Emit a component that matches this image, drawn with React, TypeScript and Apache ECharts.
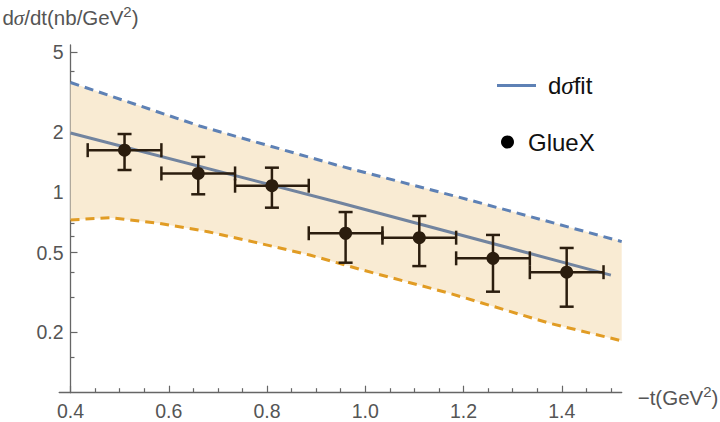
import { useEffect, useRef } from 'react';
import * as echarts from 'echarts';

// GlueX data points: -t (GeV^2), half bin width, dσ/dt (nb/GeV^2) with error limits
const T = [0.51, 0.66, 0.81, 0.96, 1.11, 1.26, 1.41];
const T_HALF_BIN = [0.075, 0.075, 0.075, 0.075, 0.075, 0.075, 0.075];
const DSIGMA = [1.62, 1.24, 1.077, 0.624, 0.593, 0.468, 0.399];
const DSIGMA_HIGH = [1.95, 1.5, 1.325, 0.796, 0.761, 0.612, 0.527];
const DSIGMA_LOW = [1.29, 0.976, 0.837, 0.445, 0.428, 0.319, 0.2685];

// fit curve
const FIT_T = [0.4, 0.95, 1.5];
const FIT = [1.974, 0.883, 0.386];

// upper / lower bounds of the band
const UPPER_T = [0.4, 0.663, 0.941, 1.2125, 1.522];
const UPPER = [3.525, 2.138, 1.367, 0.914, 0.567];
const LOWER_T = [0.4, 0.48, 0.58, 0.68, 0.785, 0.887, 0.989, 1.172, 1.375, 1.522];
const LOWER = [0.727, 0.746, 0.7, 0.635, 0.556, 0.486, 0.4125, 0.313, 0.222, 0.1815];

// ticks
const X_MAJOR = [0.4, 0.6, 0.8, 1.0, 1.2, 1.4];
const X_MINOR = [0.45, 0.5, 0.55, 0.65, 0.7, 0.75, 0.85, 0.9, 0.95, 1.05, 1.1, 1.15, 1.25, 1.3, 1.35, 1.45, 1.5];
const Y_MAJOR = [0.2, 0.5, 1, 2, 5];
const Y_MINOR = [0.15, 0.3, 0.4, 0.6, 0.7, 0.8, 1.5, 3, 4];

const X_MIN = 0.377;
const X_MAX = 1.522;
const Y_MIN = 0.1;
const Y_MAX = 5.42;

const lg = (v: number) => Math.log10(v);

const GRID_LEFT = 59.2;
const GRID_TOP = 45;
const GRID_W = 562.5;
const GRID_H = 347.7;

const AXIS_COLOR = '#666';
const LABEL_COLOR = '#555';
const FONT = 'Liberation Sans, Arial, sans-serif';

export default function App() {
  const ref = useRef<HTMLDivElement>(null);
  useEffect(() => {
    if (!ref.current) return;
    const chart = echarts.init(ref.current, undefined, { renderer: 'svg' });
    const yOffset = -((0.4 - X_MIN) / (X_MAX - X_MIN)) * GRID_W;
    const ptColor = '#2b1d0e';

    const option: any = {
      animation: false,
      backgroundColor: '#fff',
      grid: {
        left: GRID_LEFT,
        top: GRID_TOP,
        width: GRID_W,
        height: GRID_H,
        containLabel: false,
        outerBoundsMode: 'none',
      },
      xAxis: [
        {
          type: 'value',
          min: X_MIN,
          max: X_MAX,
          position: 'bottom',
          name: '−t(GeV{sup|2})',
          nameLocation: 'end',
          nameGap: 16,
          nameTextStyle: {
            color: LABEL_COLOR,
            fontSize: 20.5,
            fontFamily: FONT,
            verticalAlign: 'middle',
            padding: [10, 0, 0, 0],
            rich: {
              sup: { fontSize: 15, fontFamily: FONT, color: LABEL_COLOR, verticalAlign: 'top', padding: [0, 0, 12, 0] },
            },
          },
          axisLine: { show: true, onZero: false, lineStyle: { color: AXIS_COLOR, width: 1.3 } },
          axisTick: { show: true, inside: true, length: 7, customValues: X_MAJOR, lineStyle: { color: AXIS_COLOR, width: 1.2 } },
          axisLabel: {
            customValues: X_MAJOR,
            formatter: (v: number) => v.toFixed(1),
            color: LABEL_COLOR,
            fontSize: 19.5,
            fontFamily: FONT,
            margin: 8,
          },
          splitLine: { show: false },
        },
        {
          type: 'value',
          min: X_MIN,
          max: X_MAX,
          position: 'bottom',
          axisLine: { show: false, onZero: false },
          axisTick: { show: true, inside: true, length: 4.5, customValues: X_MINOR, lineStyle: { color: AXIS_COLOR, width: 1.2 } },
          axisLabel: { show: false },
          splitLine: { show: false },
        },
      ],
      yAxis: [
        {
          type: 'value',
          min: lg(Y_MIN),
          max: lg(Y_MAX),
          position: 'left',
          offset: yOffset,
          name: 'd{i|σ}/dt(nb/GeV{sup|2})',
          nameLocation: 'end',
          nameGap: 14,
          nameTextStyle: {
            color: LABEL_COLOR,
            fontSize: 20.5,
            fontFamily: FONT,
            align: 'center',
            rich: {
              i: { fontStyle: 'italic', fontFamily: 'Liberation Serif, serif', fontSize: 21, color: LABEL_COLOR },
              sup: { fontSize: 15, fontFamily: FONT, color: LABEL_COLOR, verticalAlign: 'top', padding: [0, 0, 12, 0] },
            },
          },
          axisLine: { show: true, onZero: false, lineStyle: { color: AXIS_COLOR, width: 1.3 } },
          axisTick: { show: true, inside: true, length: 7, customValues: Y_MAJOR.map(lg), lineStyle: { color: AXIS_COLOR, width: 1.2 } },
          axisLabel: {
            customValues: Y_MAJOR.map(lg),
            formatter: (v: number) => String(+Math.pow(10, v).toPrecision(3)),
            color: LABEL_COLOR,
            fontSize: 19.5,
            fontFamily: FONT,
            margin: 7,
          },
          splitLine: { show: false },
        },
        {
          type: 'value',
          min: lg(Y_MIN),
          max: lg(Y_MAX),
          position: 'left',
          offset: yOffset,
          axisLine: { show: false, onZero: false },
          axisTick: { show: true, inside: true, length: 4, customValues: Y_MINOR.map(lg), lineStyle: { color: AXIS_COLOR, width: 1.2 } },
          axisLabel: { show: false },
          splitLine: { show: false },
        },
      ],
      legend: [
        {
          data: [{ name: 'dσfit', icon: 'rect', itemStyle: { color: '#5E81B5' } }],
          left: 497,
          top: 73,
          padding: 0,
          itemWidth: 39,
          itemHeight: 3,
          selectedMode: false,
          formatter: () => 'd{i|σ}fit',
          textStyle: {
            fontSize: 24,
            color: '#111',
            fontFamily: FONT,
            padding: [0, 0, 0, 7],
            rich: { i: { fontStyle: 'italic', fontFamily: 'Liberation Serif, serif', fontSize: 25, color: '#111' } },
          },
        },
        {
          data: [{ name: 'GlueX', icon: 'circle', itemStyle: { color: '#000' } }],
          left: 501,
          top: 130,
          padding: 0,
          itemWidth: 13,
          itemHeight: 13,
          selectedMode: false,
          textStyle: { fontSize: 24, color: '#111', fontFamily: FONT, padding: [0, 0, 0, 9] },
        },
      ],
      series: [
        {
          type: 'custom',
          name: 'band',
          coordinateSystem: 'cartesian2d',
          xAxisIndex: 0,
          yAxisIndex: 0,
          silent: true,
          z: 1,
          data: [[UPPER_T[0], lg(UPPER[0])]],
          renderItem: (_params: any, api: any) => {
            const pts: number[][] = [];
            UPPER_T.forEach((t, i) => pts.push(api.coord([t, lg(UPPER[i])])));
            for (let i = LOWER_T.length - 1; i >= 0; i--) pts.push(api.coord([LOWER_T[i], lg(LOWER[i])]));
            return { type: 'polygon', shape: { points: pts }, style: { fill: '#F9EBD3' } };
          },
        },
        {
          type: 'line',
          name: 'upper',
          xAxisIndex: 0,
          yAxisIndex: 0,
          z: 2,
          symbol: 'none',
          silent: true,
          data: UPPER_T.map((t, i) => [t, lg(UPPER[i])]),
          lineStyle: { color: '#5E81B5', width: 3, type: [9, 6] },
        },
        {
          type: 'line',
          name: 'lower',
          xAxisIndex: 0,
          yAxisIndex: 0,
          z: 2,
          symbol: 'none',
          silent: true,
          data: LOWER_T.map((t, i) => [t, lg(LOWER[i])]),
          lineStyle: { color: '#E19C24', width: 3, type: [9, 6] },
        },
        {
          type: 'line',
          name: 'dσfit',
          xAxisIndex: 0,
          yAxisIndex: 0,
          z: 3,
          symbol: 'none',
          silent: true,
          data: FIT_T.map((t, i) => [t, lg(FIT[i])]),
          lineStyle: { color: '#72849f', width: 3 },
          itemStyle: { color: '#5E81B5' },
        },
        {
          type: 'custom',
          name: 'errors',
          coordinateSystem: 'cartesian2d',
          xAxisIndex: 0,
          yAxisIndex: 0,
          z: 4,
          silent: true,
          encode: { x: 0, y: 1 },
          data: T.map((t, i) => [
            t,
            lg(DSIGMA[i]),
            t - T_HALF_BIN[i],
            t + T_HALF_BIN[i],
            lg(DSIGMA_LOW[i]),
            lg(DSIGMA_HIGH[i]),
          ]),
          renderItem: (_params: any, api: any) => {
            const yv = api.value(1);
            const xv = api.value(0);
            const l = api.coord([api.value(2), yv]);
            const r = api.coord([api.value(3), yv]);
            const lo = api.coord([xv, api.value(4)]);
            const hi = api.coord([xv, api.value(5)]);
            const cap = 7;
            const style = { stroke: ptColor, lineWidth: 2.5 };
            const ln = (x1: number, y1: number, x2: number, y2: number) => ({
              type: 'line',
              shape: { x1, y1, x2, y2 },
              style,
            });
            return {
              type: 'group',
              children: [
                ln(l[0], l[1], r[0], r[1]),
                ln(lo[0], lo[1], hi[0], hi[1]),
                ln(l[0], l[1] - cap, l[0], l[1] + cap),
                ln(r[0], r[1] - cap, r[0], r[1] + cap),
                ln(lo[0] - cap, lo[1], lo[0] + cap, lo[1]),
                ln(hi[0] - cap, hi[1], hi[0] + cap, hi[1]),
              ],
            };
          },
        },
        {
          type: 'scatter',
          name: 'GlueX',
          xAxisIndex: 0,
          yAxisIndex: 0,
          z: 5,
          symbol: 'circle',
          symbolSize: 13,
          silent: true,
          data: T.map((t, i) => [t, lg(DSIGMA[i])]),
          itemStyle: { color: ptColor, opacity: 1 },
        },
      ],
    };
    chart.setOption(option);
    return () => chart.dispose();
  }, []);
  return (
    <div
      ref={ref}
      style={{ position: 'fixed', left: 0, top: 0, width: 720, height: 422, background: '#fff' }}
    />
  );
}
